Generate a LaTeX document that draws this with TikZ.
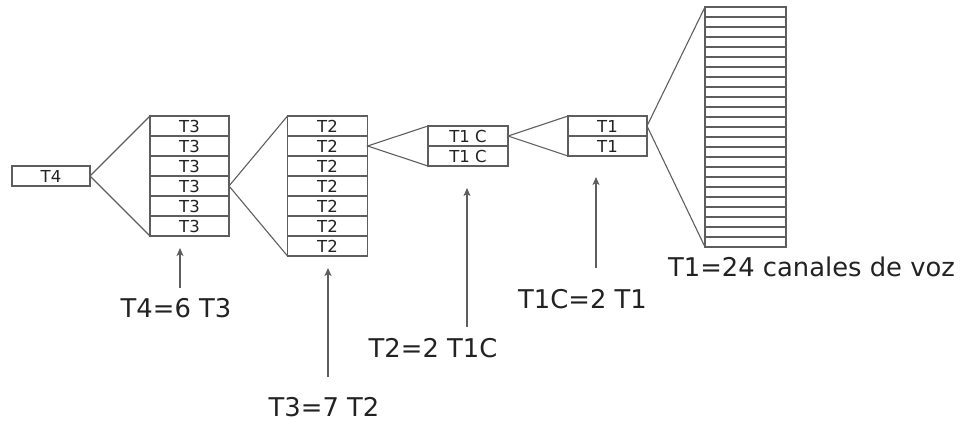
\documentclass[tikz,border=0pt]{standalone}
\usepackage{fontspec}
\setmainfont{DejaVu Sans}
\usetikzlibrary{arrows.meta}
\definecolor{ln}{HTML}{5E5E5E}
\definecolor{tx}{HTML}{222222}
\begin{document}
\begin{tikzpicture}[x=1pt,y=-1pt,
  row/.style={draw=ln,line width=1.3pt,minimum height=20pt,inner sep=0pt,outer sep=0pt,
    font=\fontsize{16.5}{16.5}\selectfont,text=tx},
  chrow/.style={draw=ln,line width=1.3pt,minimum width=81pt,minimum height=10pt,inner sep=0pt,outer sep=0pt},
  fan/.style={draw=ln,line width=1.1pt},
  arr/.style={draw=ln,line width=1.2pt,-{Stealth[length=8pt,width=7pt,inset=2pt]}},
  lbl/.style={anchor=base,inner sep=0pt,font=\fontsize{25.8}{26}\selectfont,text=tx}]
\useasboundingbox (0,0) rectangle (963,423);
% T4
\node[row,minimum width=78pt] (t4) at (51,176) {T4};
% T3 stack
\foreach \i in {1,...,6}
  \node[row,minimum width=79pt] (t3-\i) at (189.5,{126+20*(\i-1)}) {T3};
% T2 stack
\foreach \i in {1,...,7}
  \node[row,minimum width=80pt] (t2-\i) at (327.5,{126+20*(\i-1)}) {T2};
% T1C stack
\foreach \i in {1,2}
  \node[row,minimum width=80pt] (c-\i) at (468,{136+20*(\i-1)}) {T1 C};
% T1 stack
\foreach \i in {1,2}
  \node[row,minimum width=79pt] (t1-\i) at (607.5,{126+20*(\i-1)}) {T1};
% channels
\foreach \i in {1,...,24}
  \node[chrow] (ch-\i) at (745.5,{12+10*(\i-1)}) {};
% fans
\draw[fan] (t3-1.north west) -- (t4.east) -- (t3-6.south west);
\draw[fan] (t2-1.north west) -- (t3-4.east) -- (t2-7.south west);
\draw[fan] (c-1.north west) -- (t2-2.east) -- (c-2.south west);
\draw[fan] (t1-1.north west) -- (c-1.east) -- (t1-2.south west);
\draw[fan] (ch-1.north west) -- (t1-1.east) -- (ch-24.south west);
% arrows
\coordinate (a4s) at (180,288); \coordinate (a4e) at (180,248);
\coordinate (a3s) at (328,377); \coordinate (a3e) at (328,268);
\coordinate (a2s) at (467,327); \coordinate (a2e) at (467,188);
\coordinate (a1s) at (596,268); \coordinate (a1e) at (596,177);
\draw[arr] (a4s) -- (a4e);
\draw[arr] (a3s) -- (a3e);
\draw[arr] (a2s) -- (a2e);
\draw[arr] (a1s) -- (a1e);
% labels
\node[lbl] (l4) at (176,317) {T4=6 T3};
\node[lbl] (l3) at (324,416) {T3=7 T2};
\node[lbl] (l2) at (433,357) {T2=2 T1C};
\node[lbl] (l1) at (582.5,308) {T1C=2 T1};
\node[lbl] (l0) at (811.5,276) {T1=24 canales de voz};
\end{tikzpicture}
\end{document}
